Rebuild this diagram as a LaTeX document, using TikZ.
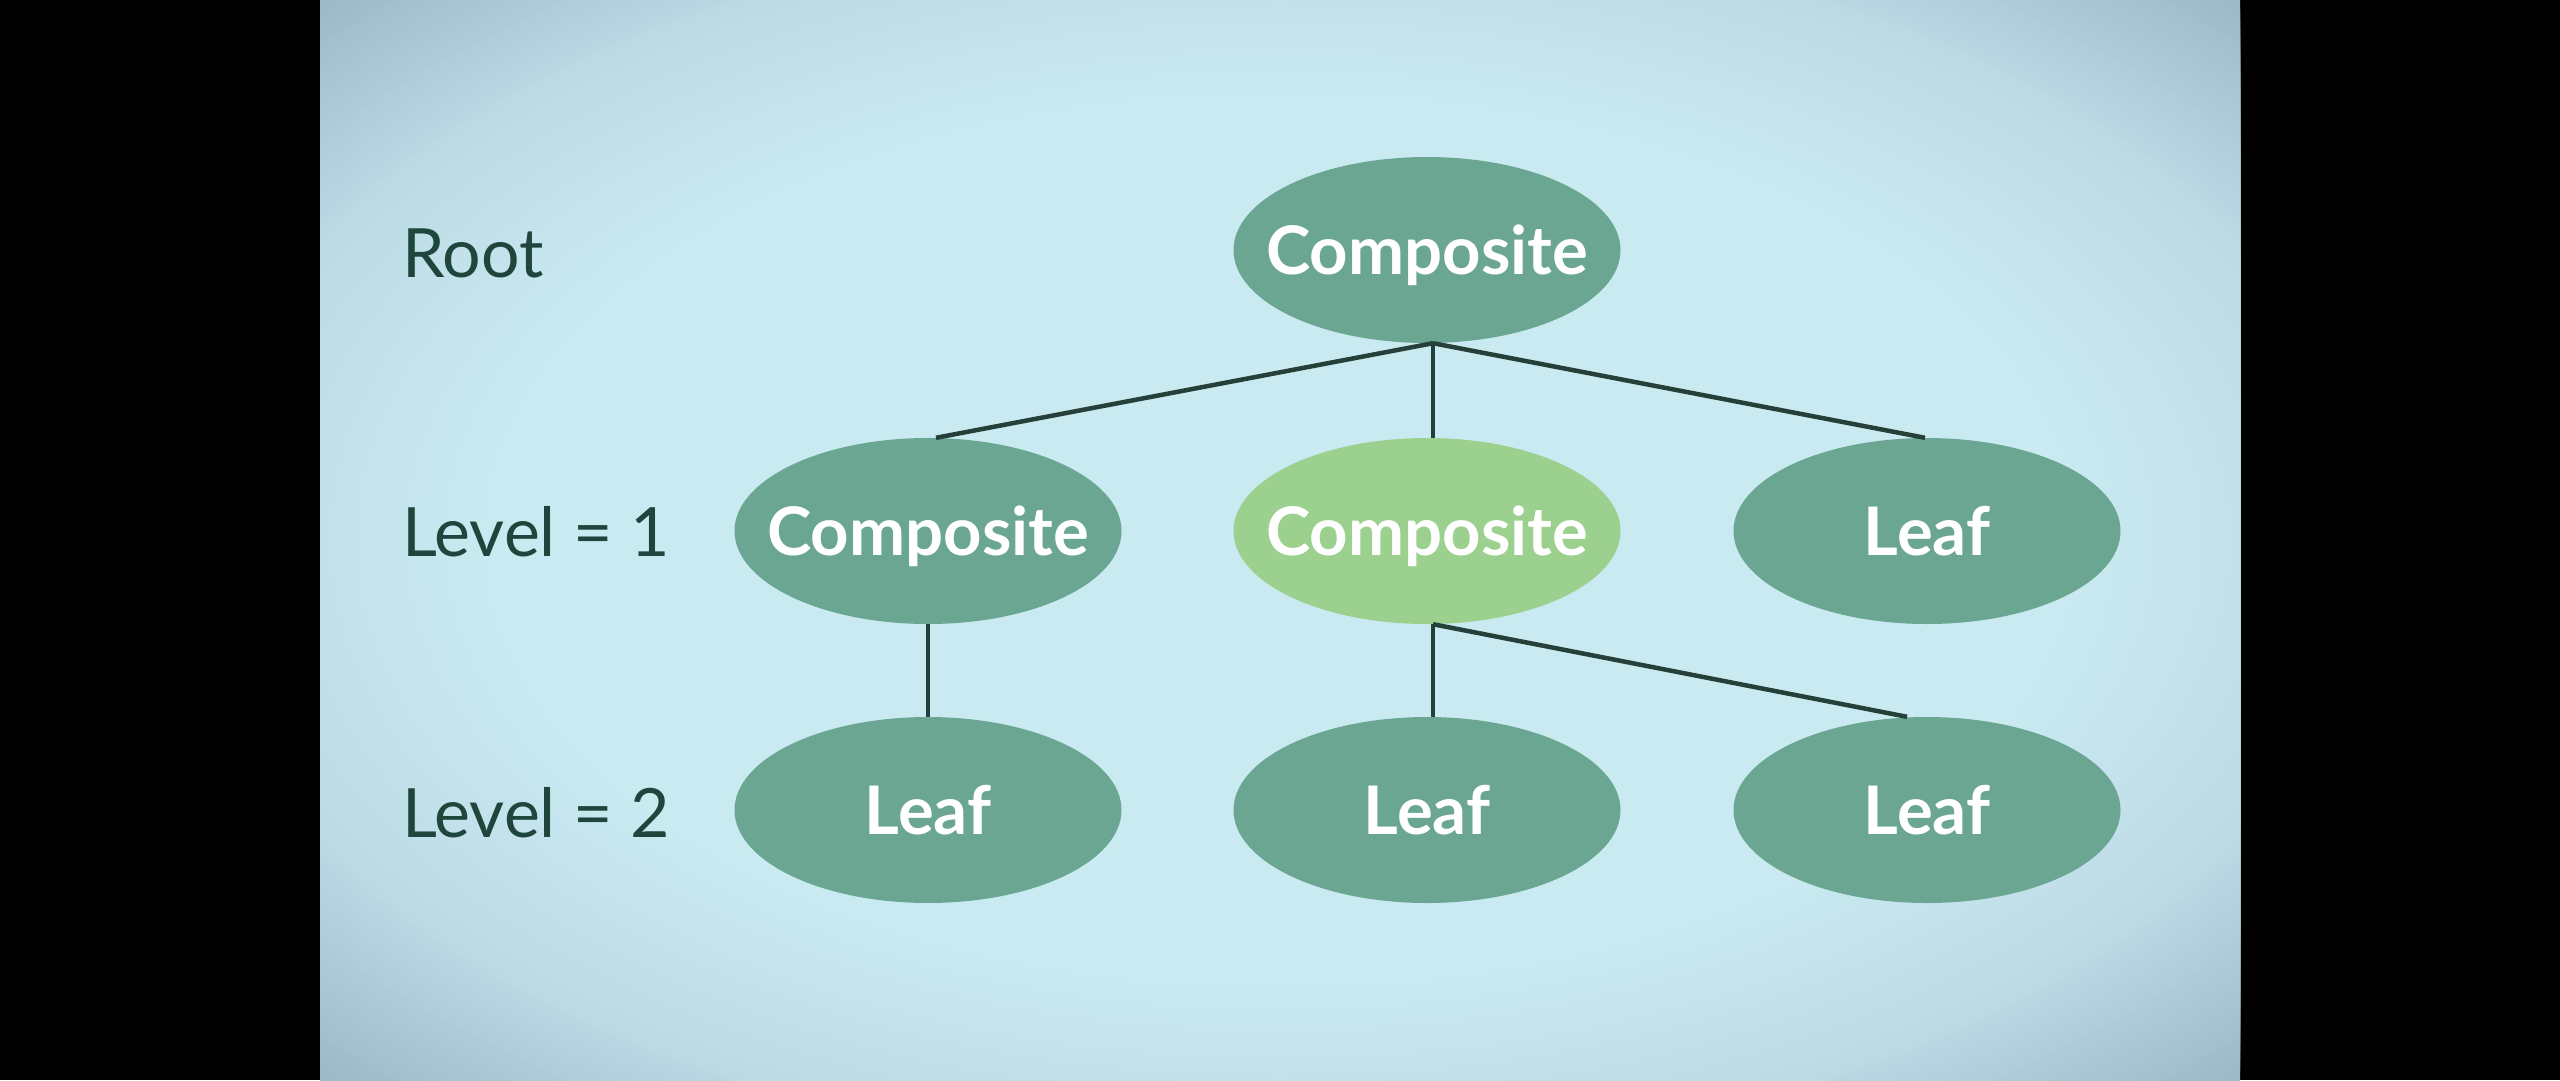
\documentclass[tikz,border=0pt]{standalone}
\usepackage{fontspec}
\newfontfamily\lato{Lato}
\usetikzlibrary{shapes.geometric,calc}
\definecolor{bgc}{RGB}{202,234,242}
\definecolor{bgm}{RGB}{188,219,229}
\definecolor{bgx}{RGB}{155,185,199}
\definecolor{nodedark}{RGB}{107,166,146}
\definecolor{nodelight}{RGB}{155,208,142}
\definecolor{labeltxt}{RGB}{30,70,60}
\definecolor{linec}{RGB}{36,64,56}
\tikzset{
  nodetext/.style={inner sep=0pt, text=white, font=\lato\bfseries\fontsize{67pt}{70pt}\selectfont,
    text height=48pt, text depth=0pt},
  tnode/.style={ellipse, fill=nodedark, minimum width=387pt, minimum height=186pt, inner sep=0pt},
  hinode/.style={tnode, fill=nodelight},
  lvl/.style={anchor=base west, inner sep=0pt, text=labeltxt, font=\lato\fontsize{68pt}{72pt}\selectfont},
  conn/.style={draw=linec, line width=4.5pt}
}
\begin{document}
\begin{tikzpicture}[x=1pt,y=-1pt]
\useasboundingbox (0,0) rectangle (2560,1080);
\fill[black] (0,0) rectangle (2560,1080);
\begin{scope}
  \clip (320,0) rectangle (2240,1080);
  \fill[bgx] (320,0) rectangle (2240,1080);
  \foreach \i in {0,...,30}{
    \pgfmathsetmacro{\rr}{1.0-0.2*\i/30}
    \pgfmathsetmacro{\pp}{100*(1-\i/30)}
    \fill[bgx!\pp!bgm] (1280,540) ellipse [x radius=1358*\rr, y radius=764*\rr];
  }
  \foreach \i in {0,...,30}{
    \pgfmathsetmacro{\rr}{0.8-0.22*\i/30}
    \pgfmathsetmacro{\pp}{100*(1-\i/30)}
    \fill[bgm!\pp!bgc] (1280,540) ellipse [x radius=1358*\rr, y radius=764*\rr];
  }
\end{scope}

\node[tnode, label={[nodetext]center:Composite}] (root) at (1427,250) {};
\node[tnode, label={[nodetext]center:Composite}] (c1) at (928,531) {};
\node[hinode, label={[nodetext]center:Composite}] (c2) at (1427,531) {};
\node[tnode, label={[nodetext]center:Leaf}] (l1) at (1927,531) {};
\node[tnode, label={[nodetext]center:Leaf}] (l2) at (928,810) {};
\node[tnode, label={[nodetext]center:Leaf}] (l3) at (1427,810) {};
\node[tnode, label={[nodetext]center:Leaf}] (l4) at (1927,810) {};

\node[lvl] (lroot) at (402,277) {Root};
\node[lvl] (lone) at (402,556) {Level = 1};
\node[lvl] (ltwo) at (402,837) {Level = 2};

\coordinate (rs) at ($(root.south)+(6,0)$);
\coordinate (c2s) at ($(c2.south)+(6,0)$);
\draw[conn] (rs) -- ($(c1.north)+(8,0)$);
\draw[conn] (rs) -- ($(c2.north)+(6,0)$);
\draw[conn] (rs) -- ($(l1.north)+(-2,0)$);
\draw[conn] (c1.south) -- (l2.north);
\draw[conn] (c2s) -- ($(l3.north)+(6,0)$);
\draw[conn] (c2s) -- ($(l4.north)+(-20,0)$);
\end{tikzpicture}
\end{document}
